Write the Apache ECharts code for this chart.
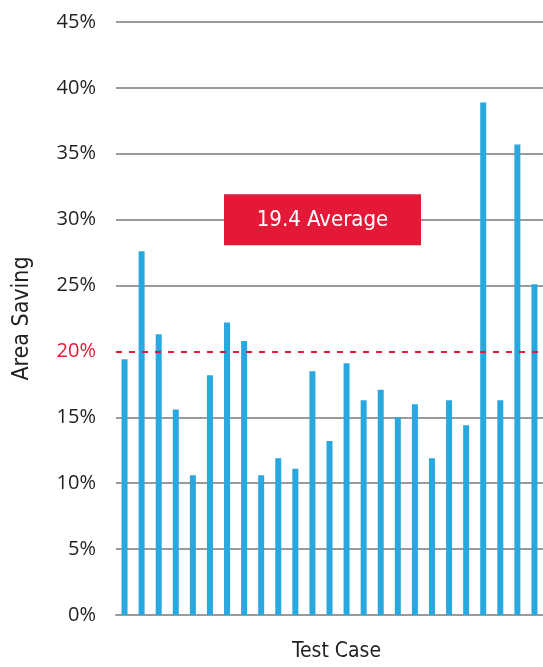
<!DOCTYPE html>
<html>
<head>
<meta charset="utf-8">
<script src="https://cdn.jsdelivr.net/npm/echarts@6/dist/echarts.min.js"></script>
<style>
html,body{margin:0;padding:0;background:#fff;}
#chart{width:543px;height:667px;}
</style>
</head>
<body>
<div id="chart"></div>
<script>
var categories = ['1','2','3','4','5','6','7','8','9','10','11','12','13','14','15','16','17','18','19','20','21','22','23','24','25'];
var savings = [19.4, 27.6, 21.3, 15.6, 10.6, 18.2, 22.2, 20.8, 10.6, 11.9, 11.1, 18.5, 13.2, 19.1, 16.3, 17.1, 15.0, 16.0, 11.9, 16.3, 14.4, 38.9, 16.3, 35.7, 25.1];
var referenceLine = 20;
var averageText = '19.4 Average';
var averageBoxLevel = 30;

var chart = echarts.init(document.getElementById('chart'));
var narrow = '"Liberation Sans Narrow", "DejaVu Sans Condensed", "Open Sans", sans-serif';
var option = {
  animation: false,
  grid: { left: 116, right: -4, top: 22, bottom: 48 },
  xAxis: {
    type: 'category',
    data: categories,
    name: 'Test Case',
    nameLocation: 'middle',
    nameGap: 26,
    nameTextStyle: { fontFamily: narrow, fontSize: 21, color: '#231f20', padding: [0, 0, 0, 14] },
    axisLine: { lineStyle: { color: '#9a9a9a', width: 2 } },
    axisTick: { show: false },
    axisLabel: { show: false }
  },
  yAxis: {
    type: 'value',
    min: 0, max: 45, interval: 5,
    name: 'Area Saving',
    nameLocation: 'middle',
    nameGap: 82,
    nameTextStyle: { fontFamily: narrow, fontSize: 23, color: '#231f20' },
    axisLine: { show: false },
    axisTick: { show: false },
    axisLabel: {
      margin: 20,
      fontFamily: '"Open Sans", sans-serif',
      fontSize: 20,
      formatter: function (v) { return v + '%'; },
      color: function (v) { return Number(v) === referenceLine ? '#e31937' : '#231f20'; }
    },
    splitLine: {
      lineStyle: {
        width: 2,
        color: ['#9a9a9a', '#9a9a9a', '#9a9a9a', '#9a9a9a', 'rgba(0,0,0,0)', '#9a9a9a', '#9a9a9a', '#9a9a9a', '#9a9a9a', '#9a9a9a']
      }
    }
  },
  series: [{
    type: 'bar',
    data: savings,
    barWidth: 6,
    itemStyle: { color: '#29a8e0' },
    markLine: {
      silent: true,
      symbol: 'none',
      z: 10,
      label: { show: false },
      lineStyle: { color: '#e31937', type: [6, 7], width: 2 },
      data: [{ yAxis: referenceLine }]
    }
  }]
};
chart.setOption(option);

var boxCenter = chart.convertToPixel({ yAxisIndex: 0 }, averageBoxLevel);
chart.setOption({
  graphic: [{
    type: 'group',
    left: 224,
    top: boxCenter - 25.5,
    children: [
      { type: 'rect', shape: { x: 0, y: 0, width: 197, height: 51 }, style: { fill: '#e31937' } },
      { type: 'text', x: 98.5, y: 26, style: { text: averageText, fill: '#fff', font: '22px ' + narrow, textAlign: 'center', textVerticalAlign: 'middle' } }
    ]
  }]
});
</script>
</body>
</html>
